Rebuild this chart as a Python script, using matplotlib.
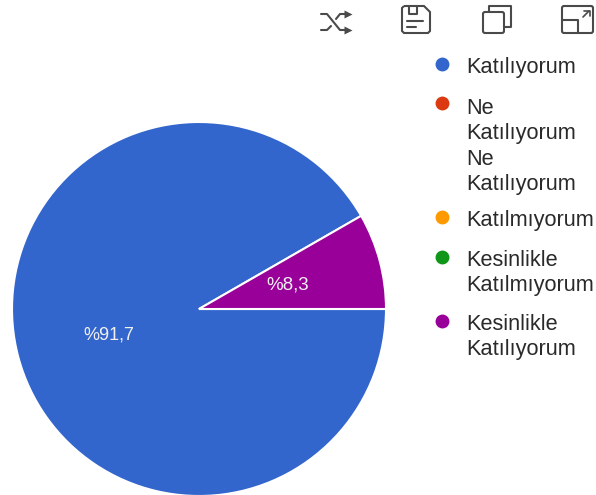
import matplotlib
matplotlib.use("Agg")
import matplotlib.pyplot as plt
from matplotlib.patches import FancyBboxPatch, PathPatch
from matplotlib.path import Path
from matplotlib.lines import Line2D

plt.rcParams["font.family"] = ["Liberation Sans", "DejaVu Sans"]

values = [91.7, 8.3]
slice_colors = ["#3366CC", "#990099"]
slice_labels = ["%91,7", "%8,3"]

legend_labels = ["Katılıyorum", "Ne\nKatılıyorum\nNe\nKatılıyorum", "Katılmıyorum",
                 "Kesinlikle\nKatılmıyorum", "Kesinlikle\nKatılıyorum"]
legend_colors = ["#3366CC", "#DC3912", "#FF9900", "#109618", "#990099"]
dot_y = [64, 103, 217, 257, 321]
text_y = [57, 98, 210, 250, 314]

W, H = 596, 495
fig = plt.figure(figsize=(W / 100, H / 100), dpi=100)

# pie axes: circle centre about (199,309), radius 187
ax = fig.add_axes([(199 - 187) / W, 1 - (309 + 187) / H, 374 / W, 374 / H])
# start so the purple slice ends right on the 3 o'clock line
ax.pie(values, colors=slice_colors, startangle=360 * values[1] / sum(values),
       radius=1, wedgeprops={"edgecolor": "white", "linewidth": 1.5})
ax.set_xlim(-1, 1)
ax.set_ylim(-1, 1)
ax.axis("off")

# everything else in pixel coords
ov = fig.add_axes([0, 0, 1, 1])
ov.set_xlim(0, W)
ov.set_ylim(H, 0)
ov.axis("off")
ov.patch.set_alpha(0)

ov.text(109, 335, slice_labels[0], color="#F0F0F0", fontsize=13, ha="center", va="center")
ov.text(288, 285, slice_labels[1], color="#F0F0F0", fontsize=13.5, ha="center", va="center")

for lab, c, dy, ty in zip(legend_labels, legend_colors, dot_y, text_y):
    ov.plot([442], [dy], "o", color=c, ms=10, mec="none")
    ov.text(466.5, ty, lab, fontsize=15.7, color="#2A2A2A", ha="left", va="top", linespacing=1.27)

ic = "#4A4A4A"
lw = 1.5


def line(xs, ys, w=lw):
    ov.add_line(Line2D(xs, ys, color=ic, lw=w, solid_capstyle="round", solid_joinstyle="round"))


# shuffle icon
line([321, 327, 340, 347], [14, 14, 30, 30])
line([321, 327, 331], [30, 30, 26])
line([336, 340, 347], [19, 14, 14])
ov.plot([348], [14], ">", color=ic, ms=6, mec="none")
ov.plot([348], [30], ">", color=ic, ms=6, mec="none")

# save icon
verts = [(404, 6), (424, 6), (430, 12), (430, 31), (428, 33), (404, 33), (402, 31), (402, 8), (404, 6)]
ov.add_patch(PathPatch(Path(verts), fill=False, ec=ic, lw=lw))
line([409, 409, 417, 417], [6, 14, 14, 6])
line([407, 423], [21, 21])
line([407, 416], [27, 27])

# copy icon
ov.add_patch(FancyBboxPatch((483, 12), 21, 21, boxstyle="round,pad=0,rounding_size=2", fill=False, ec=ic, lw=lw))
line([489, 489, 511, 511, 505], [11, 6, 6, 27, 27])

# expand icon
ov.add_patch(FancyBboxPatch((562, 6), 31, 27, boxstyle="round,pad=0,rounding_size=2", fill=False, ec=ic, lw=lw))
line([562, 578, 578], [20, 20, 33])
line([583, 589], [17, 11], 1.2)
line([584, 590, 590], [11, 11, 16], 1.2)

fig.savefig("out.png", dpi=100)
